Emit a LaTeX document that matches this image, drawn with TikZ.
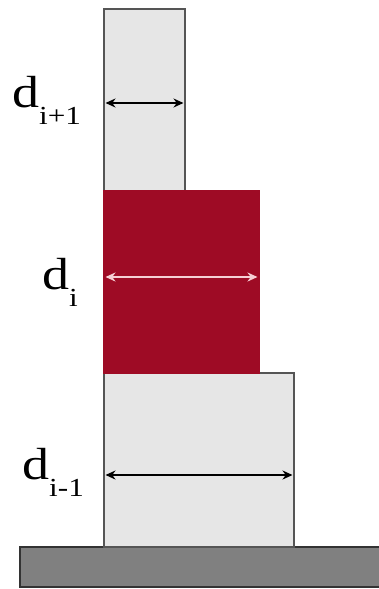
\documentclass[tikz,border=0pt]{standalone}
\usepackage{fontspec}
\usetikzlibrary{arrows.meta}
\newfontfamily\labfont[FakeStretch=1.2]{Liberation Serif}
\definecolor{boxgray}{HTML}{E6E6E6}
\definecolor{edgegray}{HTML}{555555}
\definecolor{layerred}{HTML}{9E0B25}
\definecolor{basegray}{HTML}{808080}
\definecolor{arrowpink}{HTML}{F6D0D5}
\newcommand{\dlab}[1]{{\labfont\fontsize{45}{45}\selectfont d\raisebox{-17pt}{\fontsize{26}{26}\selectfont #1}}}
\tikzset{
  layer/.style={draw=edgegray, line width=1.3pt, inner sep=0pt, outer sep=0pt},
  graybox/.style={layer, fill=boxgray},
  redbox/.style={layer, draw=layerred, fill=layerred},
  basebox/.style={draw=black!80, line width=1.5pt, fill=basegray, inner sep=0pt, outer sep=0pt},
  dim/.style={{Stealth[length=10pt,width=9pt]}-{Stealth[length=10pt,width=9pt]}, line width=1.6pt, shorten <=1.5pt, shorten >=1.5pt},
  lab/.style={inner sep=0pt, anchor=base west}
}
\begin{document}
\begin{tikzpicture}[x=1pt,y=-1pt]
\useasboundingbox[fill=white] (0,0) rectangle (379,589);
\node[basebox, minimum width=362pt, minimum height=40pt] (base) at (201,567) {};
\node[graybox, minimum width=190pt, minimum height=174pt] (low) at (199,460) {};
\node[graybox, minimum width=81pt, minimum height=182pt] (top) at (144.5,100) {};
\node[redbox, minimum width=155pt, minimum height=182pt] (mid) at (181.5,282) {};
\draw[dim, black] ([yshift=-3pt]top.west) -- ([yshift=-3pt]top.east);
\draw[dim, arrowpink, line width=2.4pt] ([yshift=5pt]mid.west) -- ([yshift=5pt]mid.east);
\draw[dim, black] ([yshift=-15pt]low.west) -- ([yshift=-15pt]low.east);
\node[lab] (ltop) at (12,107) {\dlab{i+1}};
\node[lab] (lmid) at (42,289) {\dlab{i}};
\node[lab] (llow) at (22,479) {\dlab{i-1}};
\end{tikzpicture}
\end{document}
